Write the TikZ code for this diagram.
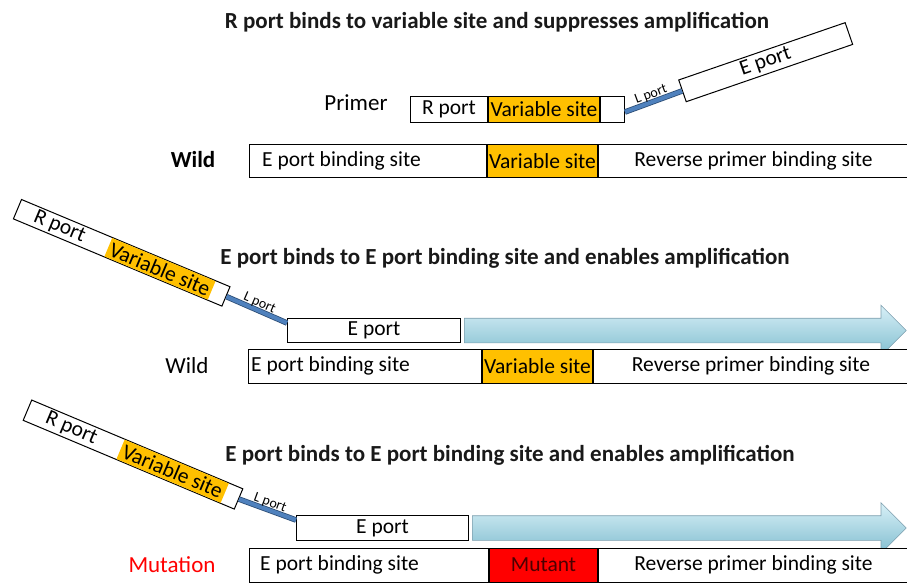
\documentclass[tikz,border=0pt]{standalone}
\usepackage{fontspec}
\setmainfont{Carlito}
\usetikzlibrary{positioning, shapes.arrows, calc}

\definecolor{varyellow}{HTML}{FFC000}
\definecolor{mutred}{HTML}{FF0000}
\definecolor{linkblue}{HTML}{4F81BD}
\definecolor{linkedge}{HTML}{2C4D75}
\definecolor{arrowlight}{HTML}{D8F0F7}
\definecolor{arrowmid}{HTML}{B0DEEB}
\definecolor{arrowdark}{HTML}{82BED0}
\definecolor{arrowedge}{HTML}{7E9FAE}

\newcommand{\bodysize}{\fontsize{21.5}{24}\selectfont}

\begin{document}
\begin{tikzpicture}[x=1pt, y=-1pt,
	seg/.style={draw, line width=1pt, rectangle, inner sep=0pt, fill=white, font=\bodysize},
	titletext/.style={font=\fontsize{23}{26}\selectfont\bfseries, text=black!90},
	sidetext/.style={font=\fontsize{23}{26}\selectfont, inner sep=0pt},
	porttext/.style={font=\fontsize{14}{16}\selectfont, inner sep=1pt},
	bodytext/.style={font=\bodysize, inner sep=0pt},
	linker/.style={draw=linkedge, double=linkblue, double distance=4pt, line width=0.8pt},
	amparrow/.style={single arrow, inner xsep=0pt, inner ysep=12pt, minimum width=50pt, single arrow head extend=13pt, top color=arrowlight, middle color=arrowmid, bottom color=arrowdark, draw=arrowedge, line width=0.6pt}]
	
	\useasboundingbox (0,0) rectangle (907,582);
	
	% suppression
	\node[titletext] (title1) at (497,22) {R port binds to variable site and suppresses amplification};
	\node[sidetext] (primer1) at (356,103) {Primer};
	\node[seg, minimum width=77pt, minimum height=26pt, anchor=west] (rport1) at (410,109) {R port};
	\node[seg, fill=varyellow, minimum width=111pt, minimum height=26pt, right=0pt of rport1] (var1) {Variable site};
	\node[seg, minimum width=24pt, minimum height=26pt, right=0pt of var1] (tail1) {};
	\node[seg, rotate=19, minimum width=176pt, minimum height=23pt, anchor=west] (eport1) at (682,91) {E port};
	\draw[linker] ([yshift=-3pt]tail1.east) -- (eport1.west) node[midway, above, sloped, porttext] (lport1) {L port};
	
	\node[sidetext, font=\fontsize{23}{26}\selectfont\bfseries] (wild1) at (193,160) {Wild};
	\node[seg, minimum width=237pt, minimum height=33pt, anchor=west] (ebind1) at (249,161) {};
	\node[seg, fill=varyellow, minimum width=110pt, minimum height=33pt, right=0pt of ebind1] (vsite1) {Variable site};
	\node[seg, minimum width=310pt, minimum height=33pt, right=0pt of vsite1] (rev1) {Reverse primer binding site};
	\node[bodytext, anchor=west] (ebtext1) at ([xshift=13pt]ebind1.west) {E port binding site};
	
	% amplification, wild
	\node[titletext] (title2) at (505,258) {E port binds to E port binding site and enables amplification};
	\node[seg, rotate=-22.7, minimum width=226pt, minimum height=21pt, anchor=west] (primer2) at (17,209) {};
	\node[rotate=-22.7, fill=varyellow, inner sep=0pt, minimum width=112pt, minimum height=20pt] (var2) at ($(primer2.east)!72pt!(primer2.west)$) {};
	\node[bodytext, rotate=-22.7] (rport2) at ($(primer2.west)!46pt!(primer2.east)$) {R port};
	\node[bodytext, rotate=-22.7] (vtext2) at (var2) {Variable site};
	\node[seg, minimum width=173pt, minimum height=24pt, anchor=north west] (eport2) at (287,318) {E port};
	\draw[linker] (primer2.east) -- ([yshift=-5pt]eport2.north west) node[midway, above, sloped, porttext] (lport2) {L port};
	\node[amparrow, minimum height=442pt, anchor=tail] (amp2) at ([xshift=3pt]eport2.east) {};
	
	\node[sidetext] (wild2) at (187,366) {Wild};
	\node[seg, minimum width=233pt, minimum height=34pt, anchor=west] (ebind2) at (248,366) {};
	\node[seg, fill=varyellow, minimum width=110pt, minimum height=34pt, right=0pt of ebind2] (vsite2) {Variable site};
	\node[seg, minimum width=315pt, minimum height=34pt, right=0pt of vsite2] (rev2) {Reverse primer binding site};
	\node[bodytext, anchor=west] (ebtext2) at ([xshift=3pt]ebind2.west) {E port binding site};
	
	% amplification, mutation
	\node[titletext] (title3) at (510,455) {E port binds to E port binding site and enables amplification};
	\node[seg, rotate=-22.8, minimum width=229pt, minimum height=22pt, anchor=west] (primer3) at (27,410) {};
	\node[rotate=-22.8, fill=varyellow, inner sep=0pt, minimum width=113pt, minimum height=21pt] (var3) at ($(primer3.east)!72pt!(primer3.west)$) {};
	\node[bodytext, rotate=-22.8] (rport3) at ($(primer3.west)!48pt!(primer3.east)$) {R port};
	\node[bodytext, rotate=-22.8] (vtext3) at (var3) {Variable site};
	\node[seg, minimum width=172pt, minimum height=25pt, anchor=north west] (eport3) at (296,515) {E port};
	\draw[linker] (primer3.east) -- ([yshift=-5pt]eport3.north west) node[midway, above, sloped, porttext] (lport3) {L port};
	\node[amparrow, minimum height=434pt, anchor=tail] (amp3) at ([xshift=3pt]eport3.east) {};
	
	\node[sidetext, text=mutred] (mutation3) at (172,565) {Mutation};
	\node[seg, minimum width=239pt, minimum height=34pt, anchor=west] (ebind3) at (249,565) {};
	\node[seg, fill=mutred, text=black!70!red, minimum width=108pt, minimum height=34pt, right=0pt of ebind3] (mut3) {Mutant};
	\node[seg, minimum width=310pt, minimum height=34pt, right=0pt of mut3] (rev3) {Reverse primer binding site};
	\node[bodytext, anchor=west] (ebtext3) at ([xshift=11pt]ebind3.west) {E port binding site};
	
\end{tikzpicture}
\end{document}
